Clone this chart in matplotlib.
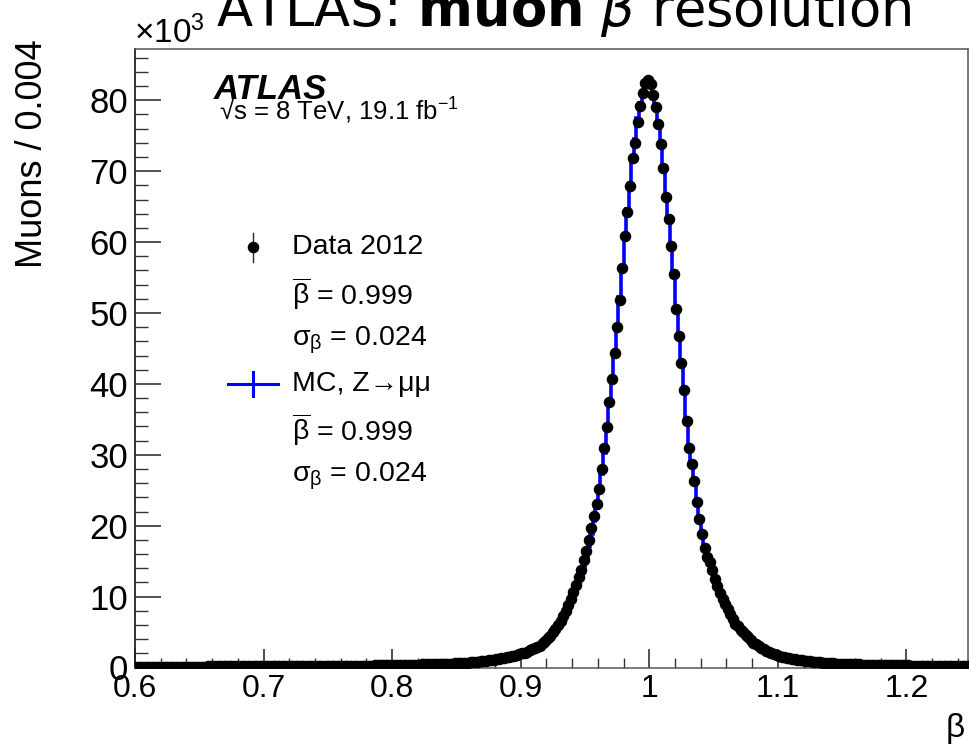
import numpy as np
import matplotlib
matplotlib.use("Agg")
import matplotlib.pyplot as plt
from matplotlib.ticker import MultipleLocator, FuncFormatter
from matplotlib.lines import Line2D

plt.rcParams['font.family'] = ['Liberation Sans', 'DejaVu Sans']
plt.rcParams['mathtext.fontset'] = 'custom'
plt.rcParams['mathtext.rm'] = 'Liberation Sans'
plt.rcParams['mathtext.it'] = 'Liberation Sans:italic'
plt.rcParams['mathtext.bf'] = 'Liberation Sans:bold'

# ---------------- data (thousands of muons per bin) ----------------
bin_start = 0.600
bin_width = 0.002

data_2012 = [
    # 0.601 - 0.649
    0.12,0.12,0.12,0.12,0.12,0.12,0.12,0.12,0.13,0.13,0.13,0.13,0.13,0.13,0.13,0.13,0.13,0.13,0.14,0.14,0.14,0.14,0.14,0.14,0.14,
    # 0.651 - 0.699
    0.14,0.14,0.14,0.15,0.15,0.15,0.15,0.15,0.15,0.15,0.16,0.16,0.16,0.16,0.16,0.16,0.16,0.17,0.17,0.17,0.17,0.17,0.17,0.17,0.17,
    # 0.701 - 0.749
    0.18,0.18,0.18,0.18,0.18,0.19,0.19,0.19,0.19,0.19,0.20,0.20,0.20,0.20,0.20,0.21,0.21,0.21,0.21,0.21,0.22,0.22,0.22,0.22,0.22,
    # 0.751 - 0.799
    0.23,0.23,0.23,0.24,0.24,0.24,0.25,0.25,0.25,0.26,0.26,0.26,0.27,0.27,0.27,0.28,0.28,0.28,0.29,0.29,0.30,0.30,0.30,0.31,0.31,
    # 0.801 - 0.849
    0.32,0.33,0.34,0.35,0.36,0.37,0.38,0.39,0.40,0.41,0.42,0.43,0.44,0.45,0.46,0.47,0.48,0.49,0.50,0.51,0.52,0.53,0.55,0.56,0.58,
    # 0.851 - 0.899
    0.60,0.62,0.64,0.67,0.70,0.72,0.75,0.79,0.83,0.87,0.91,0.95,1.00,1.05,1.10,1.16,1.22,1.28,1.35,1.42,1.50,1.58,1.67,1.76,1.86,
    # 0.901 - 0.949
    2.0,2.1,2.25,2.4,2.55,2.7,2.9,3.1,3.4,3.7,4.1,4.5,5.0,5.5,6.0,6.6,7.3,8.0,8.8,9.7,10.6,11.6,12.7,13.8,15.1,
    # 0.951 - 0.999
    16.5,18.0,19.7,21.3,23.0,25.2,28.0,30.9,33.9,37.4,40.7,44.3,48.0,51.9,56.4,60.8,64.3,67.9,71.8,74.0,77.0,79.2,81.0,82.5,82.8,
    # 1.001 - 1.049
    82.3,80.7,79.0,76.6,73.8,70.4,66.4,63.2,59.5,55.5,50.5,46.8,43.0,39.1,34.8,31.0,28.7,26.3,23.4,20.9,18.8,16.8,15.6,14.9,13.8,
    # 1.051 - 1.099
    12.5,11.5,10.5,9.7,9.0,8.2,7.5,6.8,6.2,5.8,5.3,4.95,4.6,4.3,3.9,3.5,3.25,3.0,2.75,2.55,2.35,2.2,2.05,1.9,1.75,
    # 1.101 - 1.149
    1.65,1.55,1.46,1.38,1.30,1.23,1.16,1.10,1.04,0.99,0.94,0.90,0.86,0.82,0.78,0.75,0.72,0.69,0.66,0.63,0.61,0.58,0.56,0.54,0.52,
    # 1.151 - 1.199
    0.50,0.48,0.47,0.46,0.45,0.44,0.43,0.42,0.41,0.40,0.39,0.38,0.37,0.37,0.36,0.35,0.34,0.34,0.33,0.32,0.32,0.31,0.30,0.30,0.29,
    # 1.201 - 1.249
    0.29,0.28,0.28,0.27,0.27,0.26,0.26,0.26,0.25,0.25,0.24,0.24,0.24,0.23,0.23,0.23,0.22,0.22,0.22,0.22,0.21,0.21,0.21,0.20,0.20,
]

mc_zmumu = [
    0.10,0.10,0.10,0.10,0.10,0.10,0.10,0.10,0.11,0.11,0.11,0.11,0.11,0.11,0.11,0.11,0.11,0.11,0.12,0.12,0.12,0.12,0.12,0.12,0.12,
    0.12,0.12,0.12,0.13,0.13,0.13,0.13,0.13,0.13,0.13,0.14,0.14,0.14,0.14,0.14,0.14,0.14,0.15,0.15,0.15,0.15,0.15,0.15,0.15,0.15,
    0.15,0.15,0.16,0.16,0.16,0.16,0.16,0.16,0.17,0.17,0.17,0.17,0.17,0.18,0.18,0.18,0.18,0.18,0.19,0.19,0.19,0.19,0.19,0.20,0.20,
    0.20,0.20,0.21,0.21,0.21,0.21,0.22,0.22,0.22,0.23,0.23,0.23,0.24,0.24,0.24,0.25,0.25,0.25,0.26,0.26,0.26,0.27,0.27,0.27,0.28,
    0.28,0.29,0.29,0.30,0.31,0.31,0.32,0.33,0.34,0.35,0.35,0.36,0.37,0.38,0.39,0.40,0.41,0.42,0.43,0.44,0.45,0.46,0.47,0.48,0.50,
    0.51,0.53,0.55,0.57,0.59,0.61,0.64,0.67,0.70,0.73,0.77,0.81,0.85,0.89,0.94,0.99,1.04,1.10,1.16,1.23,1.30,1.37,1.45,1.54,1.63,
    1.74,1.85,1.97,2.10,2.24,2.40,2.57,2.76,3.0,3.3,3.6,4.0,4.4,4.9,5.4,5.9,6.5,7.2,8.0,8.8,9.7,10.7,11.8,12.9,14.2,
    15.6,17.1,18.8,20.6,22.5,24.6,27.3,30.3,33.5,37.0,40.6,44.3,48.1,52.2,56.5,60.8,64.6,68.3,72.0,74.6,77.5,79.6,81.3,82.6,82.9,
    82.5,80.9,79.0,76.5,73.6,70.2,66.4,63.0,59.2,55.1,50.5,46.6,42.8,38.9,34.9,31.4,28.7,26.1,23.3,20.9,18.8,16.9,15.6,14.5,13.3,
    12.2,11.2,10.2,9.4,8.6,7.9,7.2,6.6,6.0,5.5,5.0,4.6,4.25,3.9,3.55,3.25,2.95,2.7,2.48,2.28,2.10,1.94,1.80,1.67,1.55,
    1.44,1.34,1.25,1.17,1.10,1.03,0.97,0.91,0.86,0.81,0.77,0.73,0.69,0.65,0.62,0.59,0.56,0.54,0.51,0.49,0.47,0.45,0.43,0.42,0.40,
    0.39,0.38,0.37,0.36,0.35,0.34,0.33,0.32,0.32,0.31,0.30,0.30,0.29,0.28,0.28,0.27,0.27,0.26,0.26,0.25,0.25,0.24,0.24,0.23,0.23,
    0.23,0.22,0.22,0.22,0.21,0.21,0.21,0.20,0.20,0.20,0.19,0.19,0.19,0.19,0.18,0.18,0.18,0.18,0.17,0.17,0.17,0.17,0.16,0.16,0.16,
]

x_major_ticks = [0.6, 0.7, 0.8, 0.9, 1.0, 1.1, 1.2]
y_major_ticks = [0, 10, 20, 30, 40, 50, 60, 70, 80]

legend_labels = ["Data 2012", r"$\overline{\mathrm{\beta}}$ = 0.999", r"$\mathrm{\sigma_{\beta}}$ = 0.024",
                 "MC, Z\u2192\u03bc\u03bc", r"$\overline{\mathrm{\beta}}$ = 0.999", r"$\mathrm{\sigma_{\beta}}$ = 0.024"]

# ---------------- figure ----------------
W, H = 969, 744
fig = plt.figure(figsize=(W / 100, H / 100), dpi=100)

def fx(px):
    return px / W

def fy(py):
    return 1 - py / H

ax_left, ax_right, ax_top, ax_bot = 135, 968.5, 49, 667.5
ax = fig.add_axes([fx(ax_left), fy(ax_bot), fx(ax_right - ax_left), (ax_bot - ax_top) / H])

n = len(data_2012)
edges = bin_start + bin_width * np.arange(n + 1)
centers = 0.5 * (edges[:-1] + edges[1:])

ax.stairs(mc_zmumu, edges, color='#0000ff', lw=2.6, baseline=None, zorder=2)
ax.plot(centers, data_2012, 'o', color='black', ms=7.3, mec='black', zorder=3, clip_on=True)

ax.set_xlim(0.6, 0.6 + (ax_right - ax_left) / 1285.7)
ax.set_ylim(0, (ax_bot - ax_top) / 7.09)

ax.set_xticks(x_major_ticks)
ax.set_yticks(y_major_ticks)
ax.xaxis.set_minor_locator(MultipleLocator(0.02))
ax.yaxis.set_minor_locator(MultipleLocator(2))
ax.xaxis.set_major_formatter(FuncFormatter(lambda v, p: f"{v:g}"))
ax.yaxis.set_major_formatter(FuncFormatter(lambda v, p: f"{v:g}"))

ax.tick_params(axis='x', which='major', direction='in', length=14, width=1.2, color='#333333',
               labelsize=23, pad=5, top=False)
ax.tick_params(axis='x', which='minor', direction='in', length=7, width=1.0, color='#333333', top=False)
ax.tick_params(axis='y', which='major', direction='in', length=19, width=1.2, color='#333333',
               labelsize=25, pad=5, right=False)
ax.tick_params(axis='y', which='minor', direction='in', length=9.5, width=1.0, color='#333333', right=False)

for s in ['left']:
    ax.spines[s].set_color('#222222')
    ax.spines[s].set_linewidth(1.3)
for s in ['top', 'bottom', 'right']:
    ax.spines[s].set_color('#555555')
    ax.spines[s].set_linewidth(1.1)

# ---------------- texts ----------------
fig.text(fx(564), fy(26), r'ATLAS: $\mathbf{muon}$ $\beta$ resolution', fontsize=38,
         family='DejaVu Sans', math_fontfamily='dejavusans', ha='center', va='baseline')

fig.text(fx(134), fy(43), r'$\times$10$^{3}$', fontsize=24, ha='left', va='baseline')

fig.text(fx(33), fy(39), 'Muons / 0.004', fontsize=26, rotation=90, ha='center', va='top')

fig.text(fx(955), fy(737), '\u03b2', fontsize=24, ha='center', va='baseline')

fig.text(fx(214), fy(99), 'ATLAS', fontsize=25, fontweight='bold', fontstyle='italic', ha='left', va='baseline')
fig.text(fx(219), fy(120), '\u221as = 8 TeV, 19.1 fb$^{\\mathrm{-1}}$', fontsize=18.5,
         ha='left', va='baseline')

row_y = [247, 294, 340, 384, 430, 476]
for lbl, yy in zip(legend_labels, row_y):
    fig.text(fx(292), fy(yy), lbl, fontsize=20.5, ha='left', va='center')

# legend symbols
fig.add_artist(Line2D([fx(253), fx(253)], [fy(233), fy(262)], color='#20206a', lw=1.0))
fig.add_artist(Line2D([fx(253)], [fy(247)], marker='o', color='black', ms=7.3, lw=0))
fig.add_artist(Line2D([fx(228), fx(278)], [fy(384), fy(384)], color='#0000ff', lw=2.2))
fig.add_artist(Line2D([fx(253), fx(253)], [fy(372), fy(396)], color='#0000ff', lw=2.2))

fig.savefig('out.png', dpi=100)
